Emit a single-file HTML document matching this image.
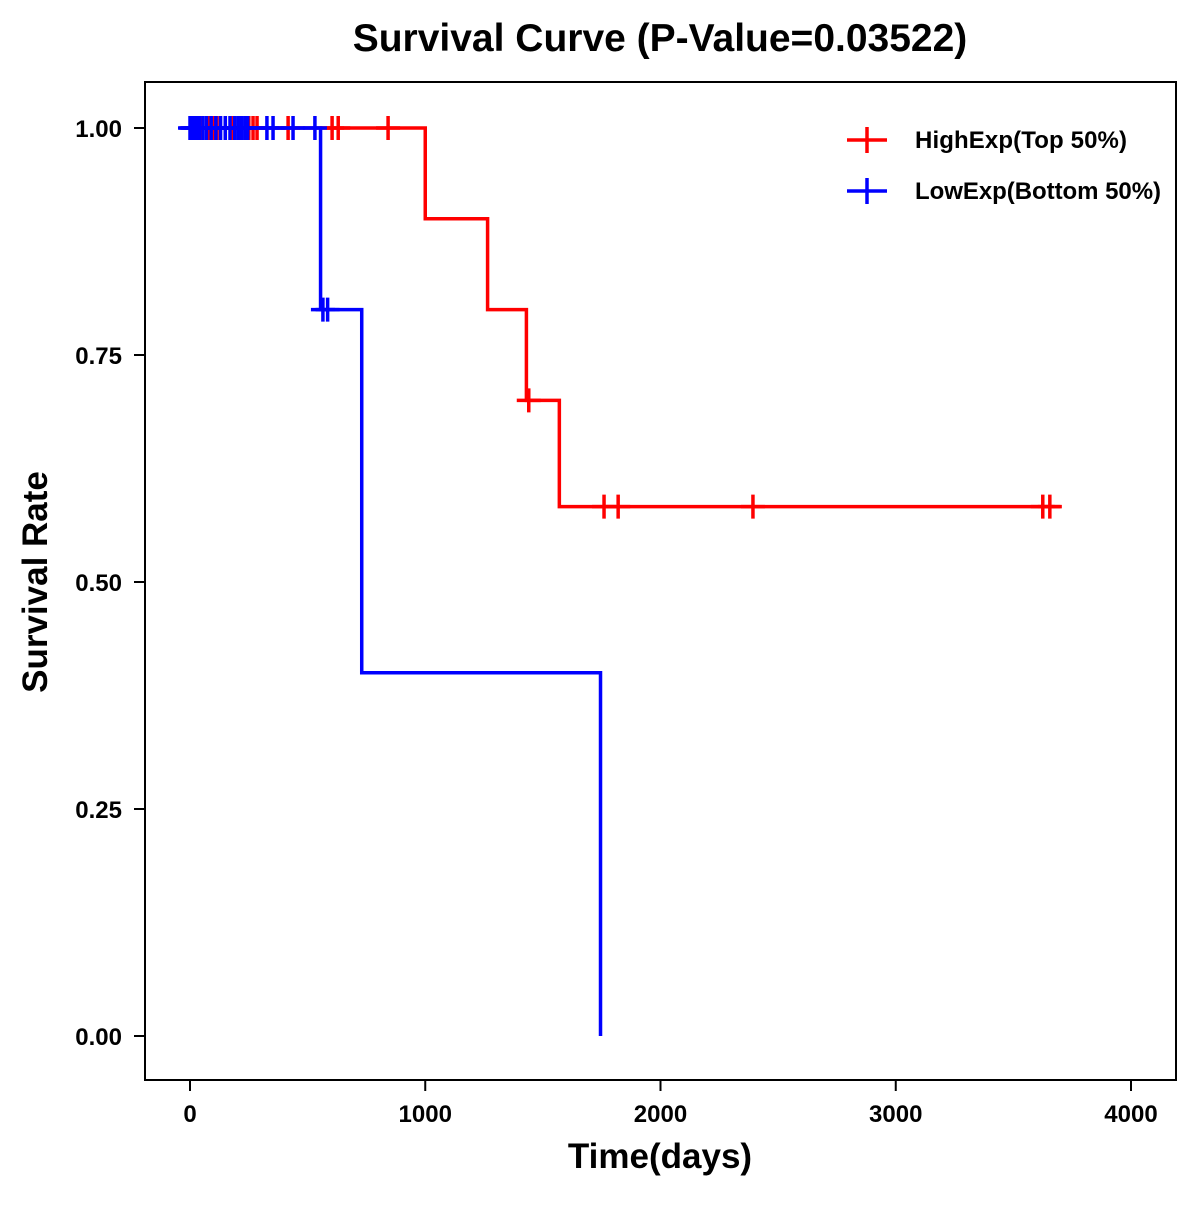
<!DOCTYPE html>
<html><head><meta charset="utf-8"><style>
body{margin:0;background:#fff;}
svg text{font-family:"Liberation Sans",Arial,sans-serif;font-weight:bold;}
</style></head><body>
<svg id="chart" width="1200" height="1200" xmlns="http://www.w3.org/2000/svg">
<rect width="1200" height="1200" fill="#fff"/>
<text x="660" y="51" font-size="39" text-anchor="middle">Survival Curve (P-Value=0.03522)</text>
<rect x="145" y="82" width="1031" height="998" fill="none" stroke="#000" stroke-width="2"/>
<g id="axes"></g>
<g id="series"></g>
<text x="660" y="1168" font-size="35" text-anchor="middle">Time(days)</text>
<text transform="translate(47,582) rotate(-90)" font-size="35" text-anchor="middle">Survival Rate</text>
<g>
<g>
<line x1="847" y1="140" x2="887" y2="140" stroke="#f00" stroke-width="3.5"/><line x1="867" y1="127" x2="867" y2="153" stroke="#f00" stroke-width="3.5"/>
<text x="915" y="148" font-size="24" textLength="212">HighExp(Top 50%)</text></g>
<g>
<line x1="847" y1="191" x2="887" y2="191" stroke="#00f" stroke-width="3.5"/><line x1="867" y1="178" x2="867" y2="204" stroke="#00f" stroke-width="3.5"/>
<text x="915" y="199" font-size="24" textLength="246">LowExp(Bottom 50%)</text></g>
</g>
</svg>
<script>
const xTicks=[0,1000,2000,3000,4000];
const yTicks=[0,0.25,0.5,0.75,1.0];
const yTickLabels=["0.00","0.25","0.50","0.75","1.00"];
const highTimes=[1000,1265,1430,1570];
const highSurv=[0.9,0.8,0.7,0.583];
const highEnd=3700;
const highCensorT=[10,25,51,77,100,115,150,180,215,250,268,285,417,604,630,842,1440,1760,1820,2393,3625,3655];
const highCensorS=[1,1,1,1,1,1,1,1,1,1,1,1,1,1,1,1,0.7,0.583,0.583,0.583,0.583,0.583];
const lowTimes=[555,730,1745];
const lowSurv=[0.8,0.4,0];
const lowEnd=1745;
const lowCensorT=[0,5,12,20,30,40,55,70,90,110,130,150,170,190,205,220,235,245,327,353,438,531,565,585];
const lowCensorS=[1,1,1,1,1,1,1,1,1,1,1,1,1,1,1,1,1,1,1,1,1,1,0.8,0.8];
const NS="http://www.w3.org/2000/svg";
const X=t=>190+t*0.23525;
const Y=s=>1036-s*908;
function mk(tag,attrs,parent){const e=document.createElementNS(NS,tag);for(const k in attrs)e.setAttribute(k,attrs[k]);parent.appendChild(e);return e;}
const axes=document.getElementById('axes');
xTicks.forEach(t=>{
  const l=mk('line',{x1:X(t),x2:X(t),y1:1080,y2:1091,stroke:'#000','stroke-width':2},axes);
  
  
  const tx=mk('text',{x:X(t),y:1122,'font-size':24,'text-anchor':'middle'},axes);tx.textContent=t;
  
  
});
yTicks.forEach((v,i)=>{
  const l=mk('line',{x1:134,x2:145,y1:Y(v),y2:Y(v),stroke:'#000','stroke-width':2},axes);
  
  
  const tx=mk('text',{x:122,y:Y(v)+9,'font-size':24,'text-anchor':'end'},axes);tx.textContent=yTickLabels[i];
  
  
});
const ser=document.getElementById('series');
function draw(times,surv,end,ct,cs,color,name){
  let d='M'+X(0)+','+Y(1);
  times.forEach((t,i)=>{d+=' H'+X(t)+' V'+Y(surv[i]);});
  d+=' H'+X(end);
  const p=mk('path',{d:d,fill:'none',stroke:color,'stroke-width':3.5},ser);
  
  
  ct.forEach((t,i)=>{
    const g=mk('path',{d:'M'+(X(t)-12)+','+Y(cs[i])+' h24 M'+X(t)+','+(Y(cs[i])-12)+' v24',stroke:color,'stroke-width':3.5,fill:'none'},ser);
    
    
  });
}
draw(highTimes,highSurv,highEnd,highCensorT,highCensorS,'#f00','high-exp');
draw(lowTimes,lowSurv,lowEnd,lowCensorT,lowCensorS,'#00f','low-exp');
</script>
</body></html>
